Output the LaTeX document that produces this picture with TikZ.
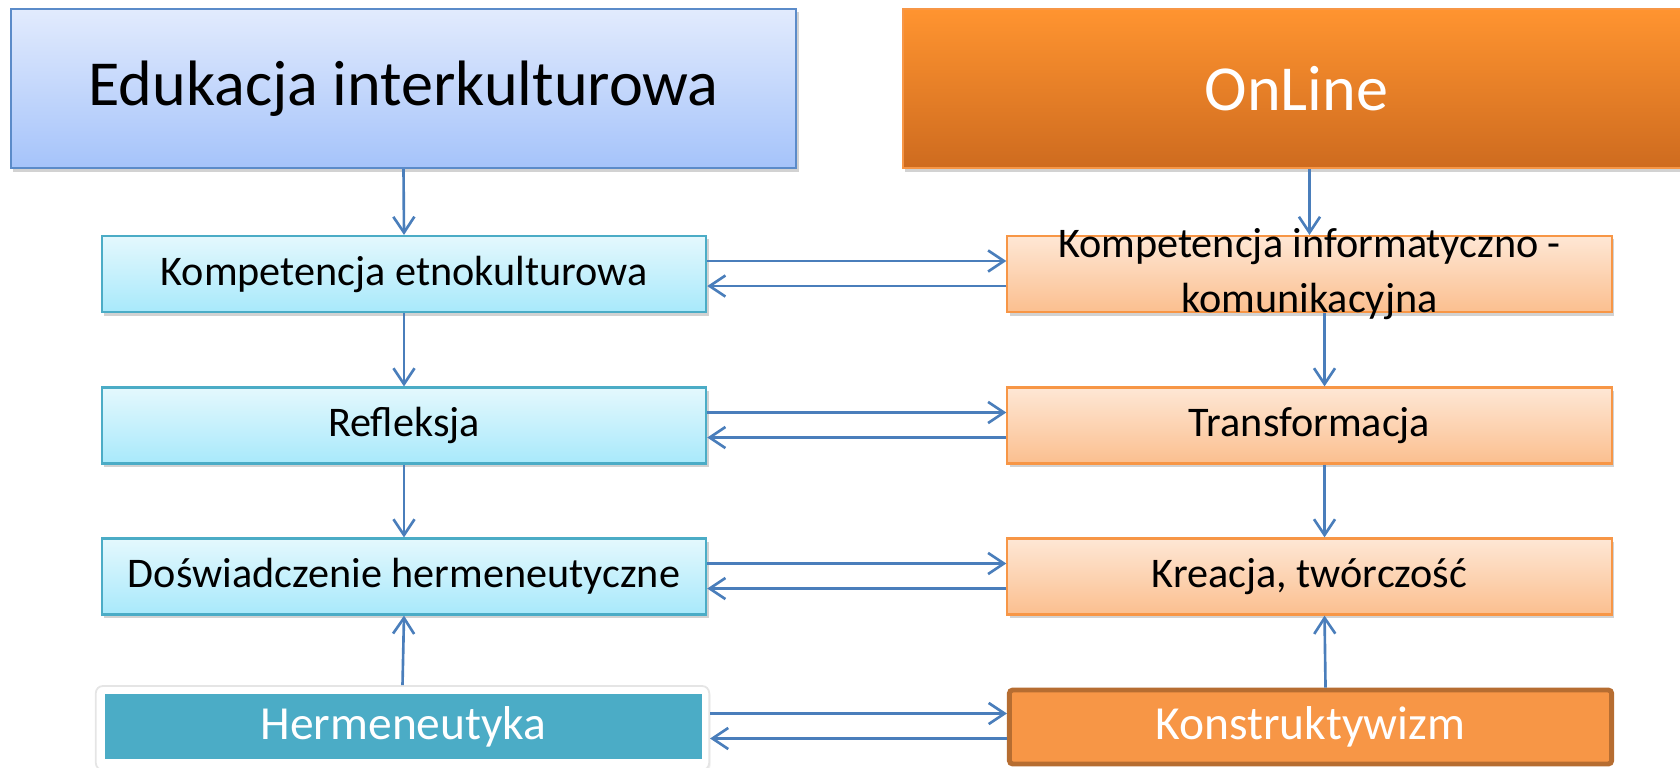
\documentclass[tikz,border=0pt]{standalone}
\usepackage{fontspec}
\setmainfont{Carlito}
\usetikzlibrary{arrows.meta,shadows}
\definecolor{arr}{HTML}{4A7EBB}
\definecolor{edutop}{HTML}{E2EBFD}
\definecolor{edubot}{HTML}{A5C3FA}
\definecolor{eduline}{HTML}{5B8BC9}
\definecolor{ontop}{HTML}{FF9430}
\definecolor{onbot}{HTML}{CE6B1F}
\definecolor{online}{HTML}{F79646}
\definecolor{ltop}{HTML}{E4F8FD}
\definecolor{lbot}{HTML}{A8E9FB}
\definecolor{lline}{HTML}{4BACC6}
\definecolor{rtop}{HTML}{FEE7D5}
\definecolor{rbot}{HTML}{FBBF8F}
\definecolor{rline}{HTML}{F79646}
\definecolor{hteal}{HTML}{4BACC6}
\definecolor{korange}{HTML}{F79646}
\definecolor{kline}{HTML}{B66D31}
\begin{document}
\begin{tikzpicture}[x=0.01cm,y=-0.01cm,
  shade/.style={drop shadow={shadow xshift=0.7pt,shadow yshift=-1pt,opacity=0.25,fill=black!70}},
  headbox/.style={shade,line width=0.6pt,inner sep=0pt,font=\fontsize{18.25}{22}\selectfont},
  stepbox/.style={shade,line width=0.6pt,inner sep=0pt,minimum width=6.04cm,minimum height=0.76cm,
    font=\fontsize{12}{15}\selectfont},
  lbox/.style={stepbox,draw=lline,top color=ltop,bottom color=lbot},
  rbox/.style={stepbox,draw=rline,top color=rtop,bottom color=rbot},
  basefont/.style={font=\fontsize{13.5}{16}\selectfont},
  conn/.style={draw=arr,line width=0.75pt,-{Straight Barb[length=4.5pt,width=6pt]}}]
\useasboundingbox (0,0) rectangle (1680,767);

% column headers
\node[headbox,draw=eduline,top color=edutop,bottom color=edubot,minimum width=7.85cm,minimum height=1.59cm]
  (edu) at (403.5,88.5) {Edukacja interkulturowa};
\node[headbox,draw=online,top color=ontop,bottom color=onbot,minimum width=7.87cm,minimum height=1.59cm,text=white]
  (onl) at (1296.5,88.5) {OnLine};

% left column
\node[lbox] (ke) at (404,274) {Kompetencja etnokulturowa};
\node[lbox] (re) at (404,425.5) {Refleksja};
\node[lbox] (dh) at (404,576.5) {Doświadczenie hermeneutyczne};

% right column
\node[rbox] (ki) at (1309.5,274) {};
\node[font=\fontsize{12}{15.5}\selectfont,align=center,inner sep=0pt] (kit) at (ki) {Kompetencja informatyczno -\\komunikacyjna};
\node[rbox] (tf) at (1309.5,425.5) {Transformacja};
\node[rbox] (kr) at (1309.5,576.5) {Kreacja, twórczość};

% foundations
\node[fill=white,draw=black!10,line width=0.5pt,rounded corners=2pt,minimum width=6.13cm,minimum height=0.84cm,
  drop shadow={shadow xshift=0.4pt,shadow yshift=-0.6pt,opacity=0.12}] (hf) at (402.5,728) {};
\node[basefont,fill=hteal,inner sep=0pt,minimum width=5.97cm,minimum height=0.65cm,text=white]
  (he) at (403.5,726.5) {Hermeneutyka};
\node[basefont,fill=korange,draw=kline,line width=1.4pt,rounded corners=1pt,inner sep=0pt,minimum width=6.02cm,
  minimum height=0.74cm,text=white] (ko) at (1310.5,727) {Konstruktywizm};

% vertical links
\draw[conn] (edu.south) -- (ke.north);
\draw[conn] (ke.south) -- (re.north);
\draw[conn] (re.south) -- (dh.north);
\draw[conn] (hf.north) -- (dh.south);
\draw[conn] (onl.south -| ki.north) -- (ki.north);
\draw[conn] ([xshift=0.15cm]ki.south) -- ([xshift=0.15cm]tf.north);
\draw[conn] ([xshift=0.15cm]tf.south) -- ([xshift=0.15cm]kr.north);
\draw[conn] ([xshift=0.15cm]ko.north) -- ([xshift=0.15cm]kr.south);

% horizontal links
\foreach \a/\b in {ke/ki,re/tf,dh/kr}{
  \draw[conn] ([yshift=0.13cm]\a.east) -- ([yshift=0.13cm]\b.west);
  \draw[conn] ([yshift=-0.12cm]\b.west) -- ([yshift=-0.12cm]\a.east);
}
\draw[conn] ([yshift=0.13cm]hf.east |- he.east) -- ([yshift=0.13cm]ko.west |- he.east);
\draw[conn] ([yshift=-0.12cm]ko.west |- he.east) -- ([yshift=-0.12cm]hf.east |- he.east);
\end{tikzpicture}
\end{document}
